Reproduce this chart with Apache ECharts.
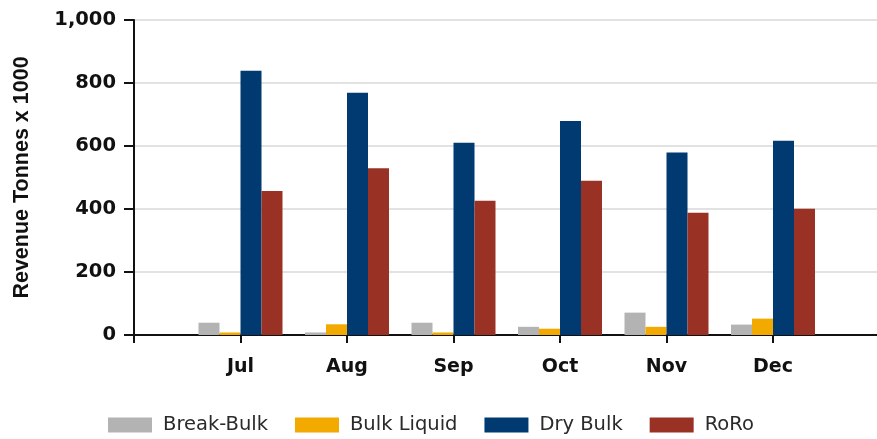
<!DOCTYPE html>
<html>
<head>
<meta charset="utf-8">
<script src="https://cdn.jsdelivr.net/npm/echarts@6/dist/echarts.min.js"></script>
<style>
  html, body { margin: 0; padding: 0; background: #fff; }
  #chart { width: 877px; height: 439px; }
</style>
</head>
<body>
<div id="chart"></div>
<script>
// leading and trailing blanks give the empty half-band at each end
const months = ['', 'Jul', 'Aug', 'Sep', 'Oct', 'Nov', 'Dec', ''];
const breakBulk = [null, 39, 8, 39, 26, 71, 33, null];
const bulkLiquid = [null, 8, 34, 8, 20, 26, 52, null];
const dryBulk = [null, 839, 769, 610, 679, 579, 617, null];
const roRo = [null, 457, 529, 426, 490, 388, 401, null];

const seriesNames = ['Break-Bulk', 'Bulk Liquid', 'Dry Bulk', 'RoRo'];
const seriesColors = ['#b3b3b3', '#f2aa00', '#013a70', '#993224'];
const seriesData = [breakBulk, bulkLiquid, dryBulk, roRo];

const chart = echarts.init(document.getElementById('chart'));

chart.setOption({
  animation: false,
  color: seriesColors,
  grid: { left: 134, top: 20, width: 745.5, bottom: 104, outerBoundsMode: 'none' },
  legend: {
    left: 108,
    top: 415,
    padding: 0,
    icon: 'rect',
    itemWidth: 44,
    itemHeight: 15,
    itemGap: 27,
    textStyle: {
      fontFamily: 'DejaVu Sans',
      fontSize: 19.5,
      color: '#2a2a2a',
      padding: [0, 0, 0, 6]
    },
    data: seriesNames
  },
  xAxis: {
    type: 'category',
    data: months,
    boundaryGap: false,
    axisLine: { lineStyle: { color: '#111', width: 2 } },
    axisTick: { length: 8, lineStyle: { color: '#111', width: 2 } },
    axisLabel: {
      interval: 0,
      margin: 23,
      fontFamily: 'DejaVu Sans',
      fontWeight: 'bold',
      fontSize: 19,
      color: '#111'
    },
    splitLine: { show: false }
  },
  yAxis: {
    type: 'value',
    min: 0,
    max: 1000,
    interval: 200,
    name: 'Revenue Tonnes x 1000',
    nameLocation: 'middle',
    nameGap: 101,
    nameTextStyle: {
      fontFamily: 'Liberation Sans',
      fontWeight: 'bold',
      fontSize: 21.5,
      color: '#111'
    },
    axisLine: { show: true, lineStyle: { color: '#111', width: 2 } },
    axisTick: { show: true, length: 10, lineStyle: { color: '#111', width: 2 } },
    axisLabel: {
      margin: 18,
      fontFamily: 'DejaVu Sans',
      fontWeight: 'bold',
      fontSize: 19.5,
      color: '#111',
      formatter: v => v.toLocaleString('en-US')
    },
    splitLine: { lineStyle: { color: '#e2e2e2', width: 2 } }
  },
  series: seriesNames.map((name, i) => ({
    name: name,
    type: 'bar',
    data: seriesData[i],
    barWidth: 21,
    barGap: '0%'
  }))
});
</script>
</body>
</html>
